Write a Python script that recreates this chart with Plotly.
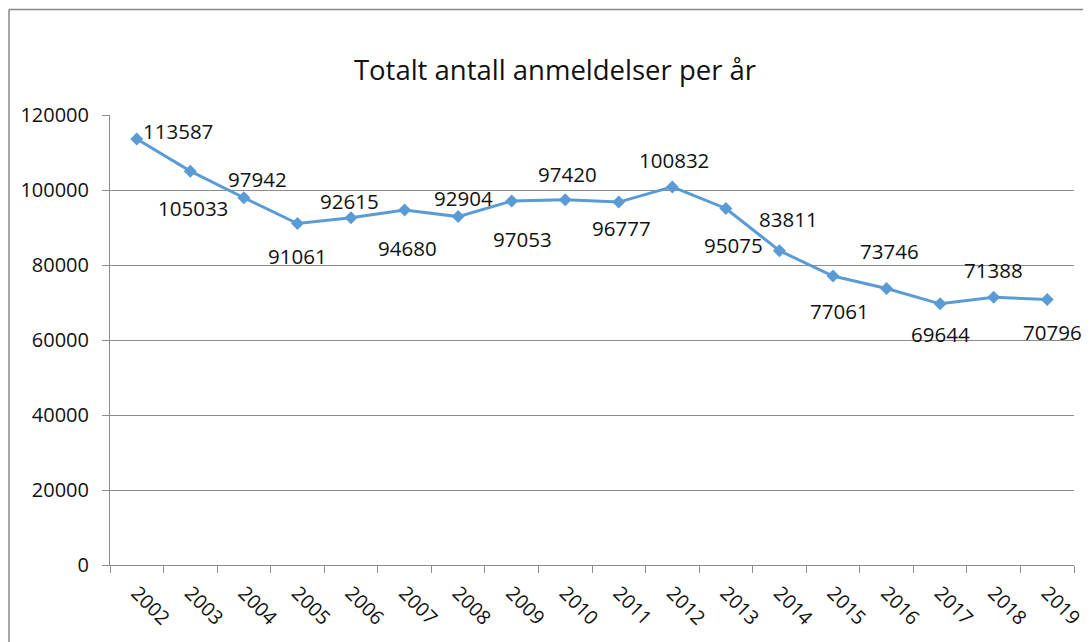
import plotly.graph_objects as go

years = ["2002", "2003", "2004", "2005", "2006", "2007", "2008", "2009", "2010",
         "2011", "2012", "2013", "2014", "2015", "2016", "2017", "2018", "2019"]
anmeldelser = [113587, 105033, 97942, 91061, 92615, 94680, 92904, 97053, 97420,
               96777, 100832, 95075, 83811, 77061, 73746, 69644, 71388, 70796]

# label offsets (pixels) for the data labels, as placed in the original
label_dx = [41, 3, 14, 0, -2, 3, 5, 11, 2, 3, 2, 8, 9, 6, 3, 0, 0, 5]
label_dy = [8, -37, 19, -32, 17, -38, 19, -38, 26, -26, 27, -37, 32, -35, 37, -30, 27, -32]

FONT = "Open Sans"
TXT = "#111111"
GRID = "#8c8c8c"

fig = go.Figure()
fig.add_trace(go.Scatter(
    x=years, y=anmeldelser, mode="lines+markers",
    line=dict(color="#5B9BD5", width=3),
    marker=dict(symbol="diamond", size=10, color="#5B9BD5"),
    hoverinfo="x+y", showlegend=False,
))

annotations = []
for i, (v, dx, dy) in enumerate(zip(anmeldelser, label_dx, label_dy)):
    annotations.append(dict(
        x=i, y=v, xref="x", yref="y", text=str(v), showarrow=False,
        xanchor="center", yanchor="middle", xshift=dx, yshift=dy,
        font=dict(family=FONT, size=20.5, color=TXT),
    ))

# page has an 8px body margin; figure sized to fit the window
FW, FH = 1083, 634
L, R, T, B = 102, 17, 107, 77
W, H = FW - L - R, FH - T - B
fx = (1 - L) / W
fy = (H + T - 1.5) / H
shapes = [
    dict(type="line", xref="paper", yref="paper", x0=fx, x1=1.2, y0=fy, y1=fy,
         line=dict(color="#898989", width=1.5), layer="above"),
    dict(type="line", xref="paper", yref="paper", x0=fx, x1=fx, y0=fy, y1=-0.5,
         line=dict(color="#898989", width=1.5), layer="above"),
]

fig.update_layout(
    width=FW, height=FH,
    margin=dict(l=L, r=R, t=T, b=B, autoexpand=False),
    paper_bgcolor="white", plot_bgcolor="white",
    title=dict(text="Totalt antall anmeldelser per år", x=547 / FW, xanchor="center",
               y=1 - 62 / FH, yanchor="middle", yref="container",
               font=dict(family=FONT, size=27.5, color=TXT)),
    font=dict(family=FONT, size=19.5, color=TXT),
    annotations=annotations,
    shapes=shapes,
    xaxis=dict(type="category", range=[-0.5, 17.5], tickson="boundaries",
               ticks="outside", ticklen=7, tickcolor=GRID, showline=True,
               linecolor=GRID, linewidth=1, showgrid=False, tickangle=45,
               tickfont=dict(family=FONT, size=19.5, color=TXT), ticklabelstandoff=8),
    yaxis=dict(range=[0, 120000], dtick=20000, tickformat="d", ticks="outside",
               ticklen=7, tickcolor=GRID, showline=True, linecolor=GRID, linewidth=1,
               showgrid=True, gridcolor=GRID, gridwidth=1, zeroline=False,
               tickfont=dict(family=FONT, size=20, color=TXT), ticklabelstandoff=9),
)

fig.write_html("out.html")
